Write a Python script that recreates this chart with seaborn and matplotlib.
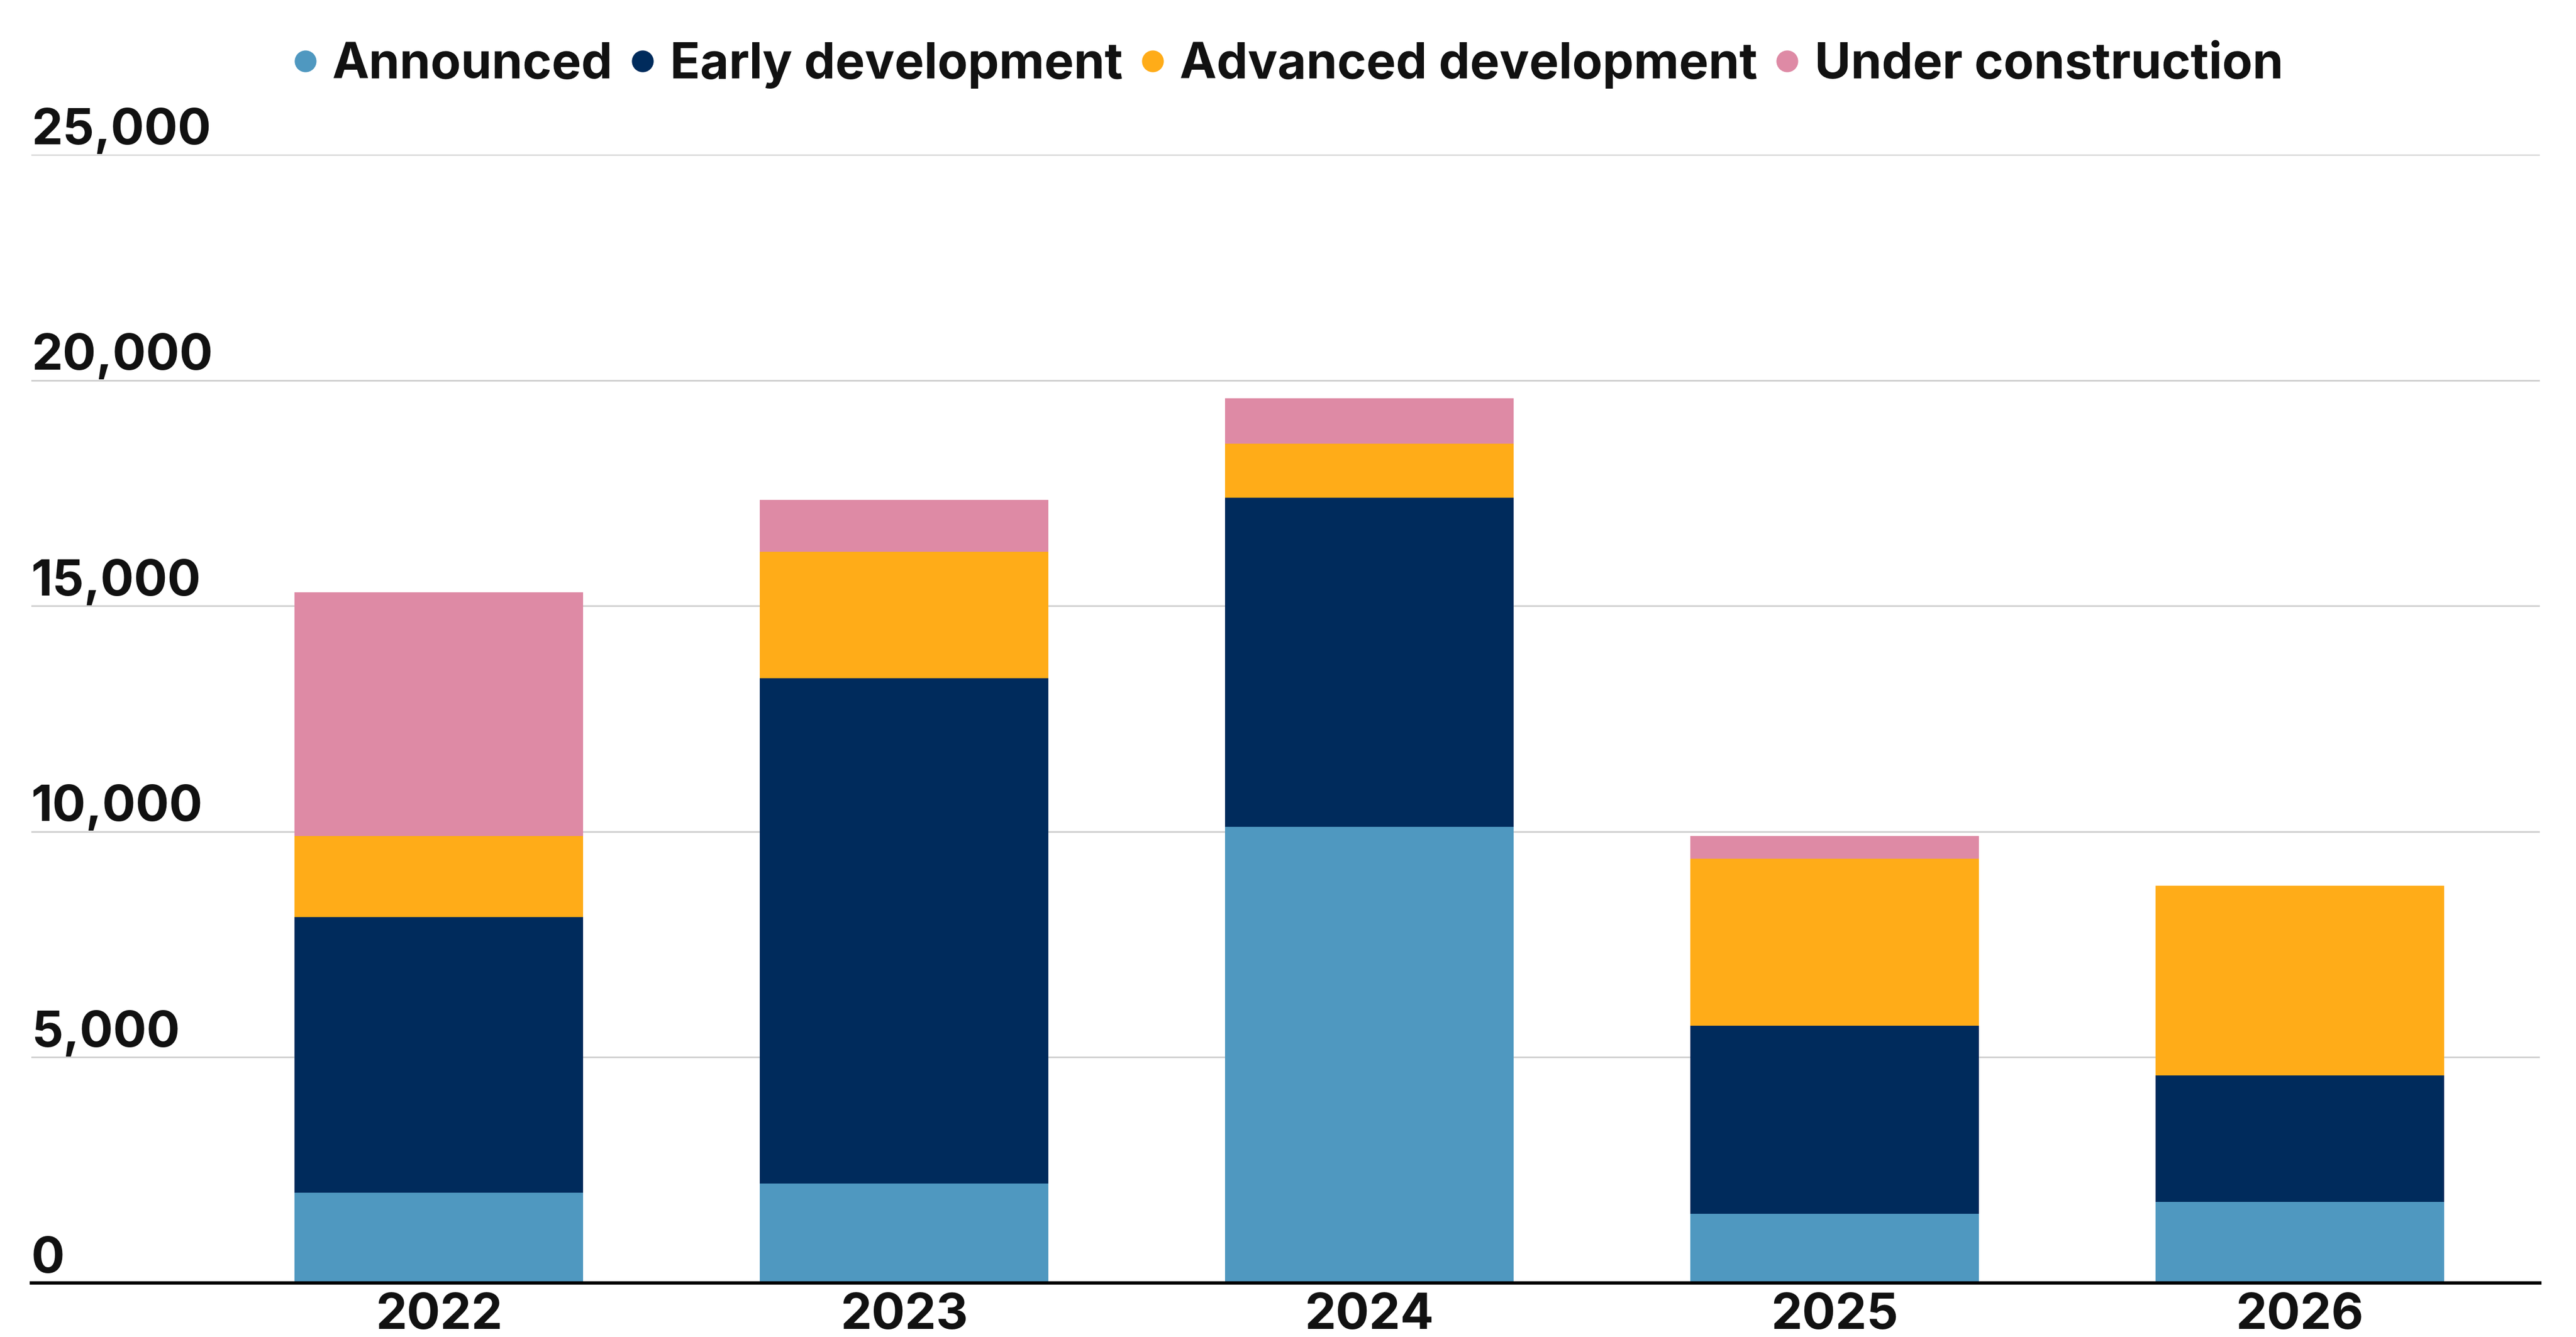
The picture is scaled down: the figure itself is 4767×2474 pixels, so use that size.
import matplotlib
matplotlib.use('Agg')
import matplotlib.pyplot as plt
import seaborn as sns
import numpy as np
from matplotlib.lines import Line2D

# Data
years = ['2022', '2023', '2024', '2025', '2026']
announced = [2000, 2200, 10100, 1530, 1800]
early_development = [6100, 11200, 7300, 4170, 2800]
advanced_development = [1800, 2800, 1200, 3700, 4200]
under_construction = [5400, 1150, 1000, 500, 0]

stages = ['Announced', 'Early development', 'Advanced development', 'Under construction']
colors = ['#4f98c0', '#002b5c', '#ffac18', '#de8aa5']
ytick_values = [0, 5000, 10000, 15000, 20000, 25000]

sns.set_theme(style='white')
plt.rcParams['font.family'] = ['Inter', 'DejaVu Sans']
plt.rcParams['font.weight'] = 'bold'
text_color = '#111111'
fsize = 66

W, H = 4767, 2474
fig = plt.figure(figsize=(W / 100, H / 100), dpi=100)
ax = fig.add_axes([58 / W, (H - 2374) / H, (4700 - 58) / W, (2374 - 286) / H])

# Stacked bars, one layer per stage
series = [announced, early_development, advanced_development, under_construction]
bottom = np.zeros(len(years))
for name, vals, c in zip(stages, series, colors):
    sns.barplot(x=years, y=vals, bottom=bottom, color=c, width=0.62,
                errorbar=None, saturation=1, ax=ax, zorder=3, linewidth=0)
    bottom = bottom + np.array(vals)

ax.set_xlim(-0.876, 4.516)
ax.set_ylim(0, 25000)
ax.set_xlabel('')
ax.set_ylabel('')

# gridlines and axis line
ax.set_yticks(ytick_values)
ax.yaxis.grid(True, color='#d0d0d0', linewidth=2.2, zorder=0)
ax.set_axisbelow(True)
ax.tick_params(axis='y', left=False, labelleft=False)
ax.tick_params(axis='x', length=0, pad=13, labelsize=fsize, labelcolor=text_color)
for lbl in ax.get_xticklabels():
    lbl.set_fontweight('bold')
for s in ['top', 'right', 'left']:
    ax.spines[s].set_visible(False)
ax.spines['bottom'].set_color('#000000')
ax.spines['bottom'].set_linewidth(4.5)
ax.spines['bottom'].set_zorder(5)

# y labels sit above their gridlines, at the left edge
for v in ytick_values:
    ax.annotate(f'{v:,}', xy=(0, v), xycoords=('axes fraction', 'data'),
                xytext=(0, 14), textcoords='offset points',
                ha='left', va='baseline', fontsize=fsize, fontweight='bold',
                color=text_color)

# legend with round markers
handles = [Line2D([0], [0], marker='o', linestyle='', markersize=28,
                  markerfacecolor=c, markeredgecolor=c) for c in colors]
fig.legend(handles, stages, loc='center', bbox_to_anchor=(0.5, 0.951),
           ncol=4, frameon=False, handlelength=0.5,
           handletextpad=0.3, columnspacing=0.35, prop={'weight': 'bold', 'size': fsize},
           labelcolor=text_color)

fig.savefig('out.png', dpi=100, facecolor='white')
